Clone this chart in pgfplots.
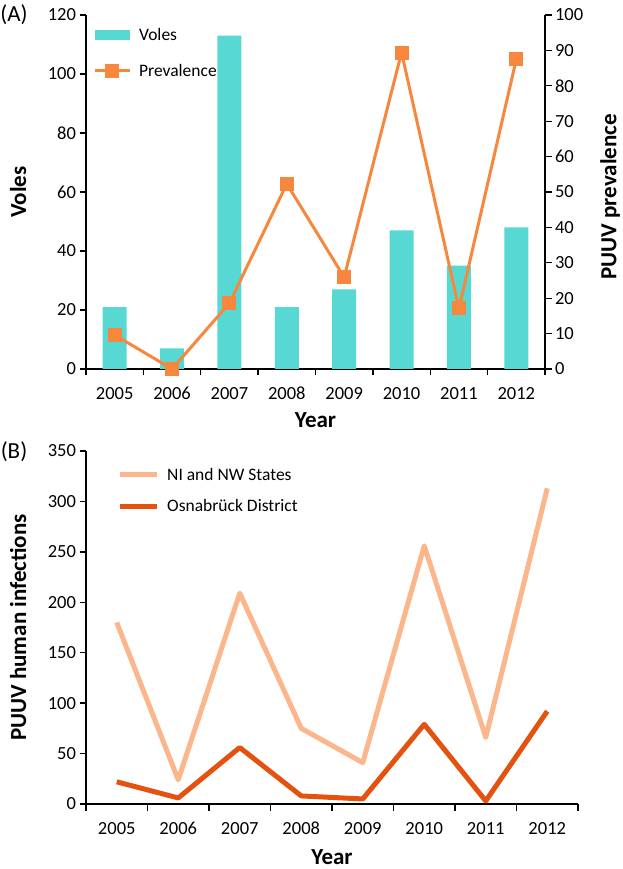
\documentclass[border=0pt]{standalone}
\usepackage{fontspec}
\setmainfont{Carlito}
\usepackage{pgfplots}
\pgfplotsset{compat=1.18}

\definecolor{vole}{RGB}{88,216,210}
\definecolor{prev}{RGB}{247,135,60}
\definecolor{state}{RGB}{251,182,140}
\definecolor{osna}{RGB}{228,82,16}

\pgfplotsset{
  common/.style={
    scale only axis,
    xmin=-0.5, xmax=7.5,
    xtick={0,...,7},
    xticklabels={2005,2006,2007,2008,2009,2010,2011,2012},
    minor xtick={-0.5,0.5,...,7.5},
    ticklabel style={font=\fontsize{18.5}{20}\selectfont},
    xticklabel style={yshift=-8pt},
    /pgf/number format/assume math mode=true,
    label style={font=\fontsize{23}{26}\selectfont\bfseries},
    legend style={draw=none, fill=none, anchor=north west,
      font=\fontsize{17.5}{20}\selectfont, inner sep=0pt},
    legend cell align=left,
  },
  fixlines/.style={
    x axis line style={-, line width=1.3pt},
    y axis line style={-, line width=1.3pt},
    tick align=outside,
    major tick length=6.5pt,
    minor tick length=6.5pt,
    tick style={draw=black, line width=1.3pt},
    every major x tick/.append style={draw=none},
  },
  barleg/.style={legend image code/.code={\fill[vole] (0pt,-5pt) rectangle (35pt,5pt);}},
  prevleg/.style={legend image code/.code={\draw[##1, mark repeat=2, mark phase=2]
    plot coordinates {(0pt,0pt) (17.5pt,0pt) (35pt,0pt)};}},
  lineleg/.style={legend image code/.code={\draw[##1] (0pt,0pt) -- (37pt,0pt);}},
}

\begin{document}
\begin{tikzpicture}
\useasboundingbox (0pt,0pt) rectangle (622pt,869pt);

% (A) voles, left axis
\begin{axis}[common,
  at={(86pt,500pt)}, anchor=south west, width=459pt, height=354pt,
  axis x line=bottom, axis y line=left, fixlines,
  ymin=0, ymax=120, ytick={0,20,...,120},
  xlabel={Year}, ylabel={Voles},
  xlabel style={at={(axis description cs:0.5,-0.144)}, anchor=center},
  ylabel style={at={(axis description cs:-0.148,0.5)}, anchor=center},
  legend style={at={(axis description cs:0.015,0.968)}, row sep=18pt,
    nodes={inner xsep=8pt}},
]
\addplot[ybar, bar width=24pt, bar shift=0pt, fill=vole, draw=none, barleg]
  coordinates {(0,21) (1,7) (2,113) (3,21) (4,27) (5,47) (6,35) (7,48)};
\addlegendentry{Voles}
\addlegendimage{prev, line width=3pt, mark=square*, mark size=5.5pt,
  mark options={fill=prev, draw=none}, prevleg}
\addlegendentry{Prevalence}
\end{axis}

% (A) prevalence, right axis
\begin{axis}[common,
  at={(86pt,500pt)}, anchor=south west, width=459pt, height=354pt,
  axis x line=none, axis y line*=right, fixlines,
  ymin=0, ymax=100, ytick={0,10,...,100},
  ylabel={PUUV prevalence},
  ylabel style={at={(axis description cs:1.142,0.486)}, anchor=center},
  clip=false,
]
\addplot[prev, line width=3pt, mark=square*, mark size=5.5pt,
  mark options={fill=prev, draw=none}]
  coordinates {(0,9.6) (1,0) (2,18.6) (3,52.3) (4,25.9) (5,89.4) (6,17.1) (7,87.5)};
\end{axis}

% (B) human infections
\begin{axis}[common,
  at={(86pt,65pt)}, anchor=south west, width=492pt, height=353pt,
  axis x line=bottom, axis y line=left, fixlines,
  ymin=0, ymax=350, ytick={0,50,...,350},
  xlabel={Year}, ylabel={PUUV human infections},
  xlabel style={at={(axis description cs:0.5,-0.150)}, anchor=center},
  ylabel style={at={(axis description cs:-0.138,0.5)}, anchor=center},
  legend style={at={(axis description cs:0.063,0.958)}, row sep=14pt,
    nodes={inner xsep=8pt}},
]
\addplot[state, line width=5pt, line join=round, lineleg]
  coordinates {(0,180) (1,24) (2,209) (3,75) (4,41) (5,256) (6,66) (7,313)};
\addlegendentry{NI and NW States}
\addplot[osna, line width=5pt, line join=round, lineleg]
  coordinates {(0,22) (1,6) (2,56) (3,8) (4,5) (5,79) (6,3) (7,92)};
\addlegendentry{Osnabrück District}
\end{axis}

\node[font=\fontsize{23}{26}\selectfont] at (14pt,854pt) {(A)};
\node[font=\fontsize{23}{26}\selectfont] at (14pt,417pt) {(B)};
\end{tikzpicture}
\end{document}
